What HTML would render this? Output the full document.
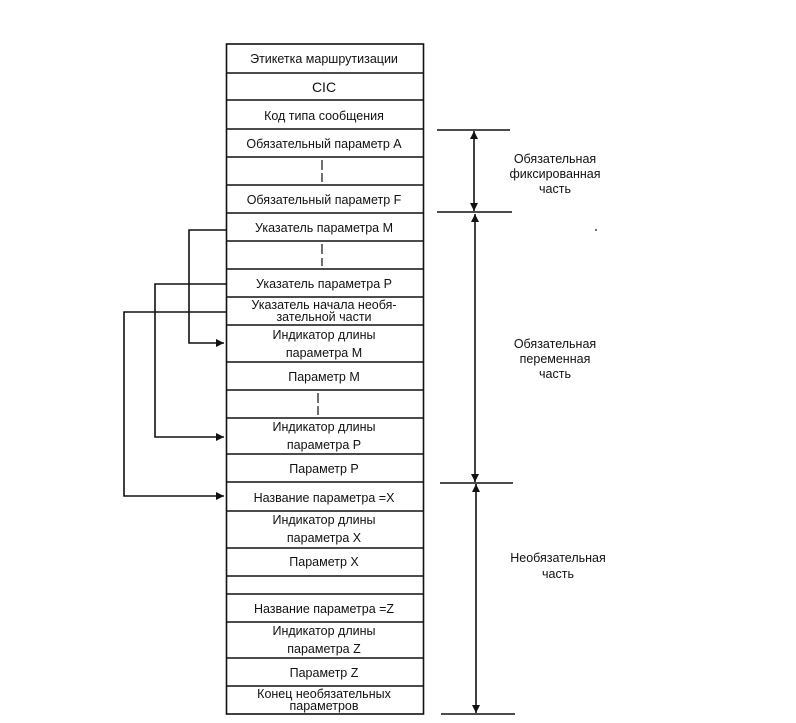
<!DOCTYPE html>
<html><head><meta charset="utf-8"><style>
html,body{margin:0;padding:0;background:#fff;}
svg{display:block;}
text{font-family:"Liberation Sans",Arial,sans-serif;font-size:12.5px;fill:#111;}
</style></head><body>
<svg width="796" height="723" viewBox="0 0 796 723" xmlns="http://www.w3.org/2000/svg">
<defs>
<marker id="ar" viewBox="0 0 10 10" refX="10" refY="5" markerWidth="10" markerHeight="8" markerUnits="userSpaceOnUse" orient="auto"><path d="M0,0 L10,5 L0,10 z" fill="#111"/></marker>
<marker id="ar2" viewBox="0 0 10 10" refX="10" refY="5" markerWidth="12" markerHeight="8" markerUnits="userSpaceOnUse" orient="auto-start-reverse"><path d="M0,0 L10,5 L0,10 z" fill="#111"/></marker>
</defs>
<g stroke="#111" stroke-width="1.6" fill="none">
<rect x="226.5" y="44" width="197" height="670"/>
<path d="M226 73H424M226 100H424M226 129H424M226 157H424M226 185H424M226 213H424M226 241H424M226 269H424M226 297H424M226 325H424M226 362H424M226 390H424M226 418H424M226 454H424M226 482H424M226 511H424M226 548H424M226 576H424M226 594H424M226 622H424M226 658H424M226 686H424"/>
<path d="M322 160V170M322 173V182M322 244V254M322 258V266M318 393V403M318 406V415" stroke-width="1.2"/>
<!-- connectors -->
<path d="M226 230H189V343H224" marker-end="url(#ar)"/>
<path d="M226 284H155V437H224" marker-end="url(#ar)"/>
<path d="M226 312H124V496H224" marker-end="url(#ar)"/>
<!-- brackets -->
<path d="M437 130H510M437 212H512M440 483H513M441 714H515"/>
<path d="M474 131V211" marker-start="url(#ar2)" marker-end="url(#ar2)"/>
<path d="M475 214V482" marker-start="url(#ar2)" marker-end="url(#ar2)"/>
<path d="M476 484V713" marker-start="url(#ar2)" marker-end="url(#ar2)"/>
</g>
<g text-anchor="middle">
<text x="324" y="63">Этикетка маршрутизации</text>
<text x="324" y="92" style="font-size:14px">CIC</text>
<text x="324" y="120">Код типа сообщения</text>
<text x="324" y="148">Обязательный параметр A</text>
<text x="324" y="204">Обязательный параметр F</text>
<text x="324" y="232">Указатель  параметра M</text>
<text x="324" y="288">Указатель  параметра P</text>
<text x="324" y="309">Указатель начала необя-</text>
<text x="324" y="321">зательной части</text>
<text x="324" y="339">Индикатор длины</text>
<text x="324" y="357">параметра M</text>
<text x="324" y="381">Параметр M</text>
<text x="324" y="431">Индикатор длины</text>
<text x="324" y="449">параметра P</text>
<text x="324" y="473">Параметр P</text>
<text x="324" y="502">Название  параметра =X</text>
<text x="324" y="524">Индикатор длины</text>
<text x="324" y="542">параметра X</text>
<text x="324" y="566">Параметр X</text>
<text x="324" y="613">Название  параметра =Z</text>
<text x="324" y="635">Индикатор длины</text>
<text x="324" y="653">параметра Z</text>
<text x="324" y="677">Параметр Z</text>
<text x="324" y="698">Конец необязательных</text>
<text x="324" y="710">параметров</text>
<text x="555" y="163">Обязательная</text>
<text x="555" y="178">фиксированная</text>
<text x="555" y="193">часть</text>
<text x="555" y="348">Обязательная</text>
<text x="555" y="363">переменная</text>
<text x="555" y="378">часть</text>
<text x="558" y="562">Необязательная</text>
<text x="558" y="578">часть</text>
</g>
<circle cx="596" cy="230" r="0.9" fill="#111"/>
</svg>
</body></html>
